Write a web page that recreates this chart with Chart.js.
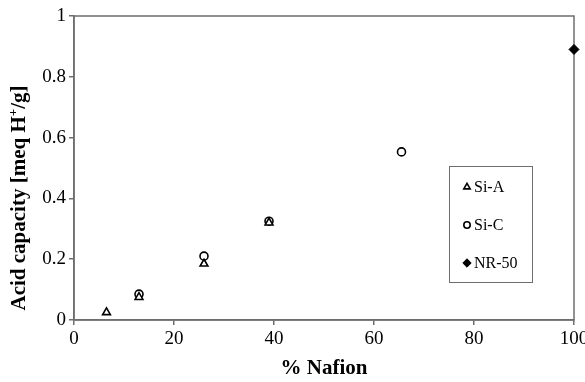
<!DOCTYPE html>
<html>
<head>
<meta charset="utf-8">
<script src="https://cdn.jsdelivr.net/npm/chart.js@4.4.0/dist/chart.umd.min.js"></script>
<style>
  html, body { margin: 0; padding: 0; background: #fff; }
  #wrap { width: 585px; height: 382px; }
</style>
</head>
<body>
<div id="wrap"><canvas id="chart" width="585" height="382"></canvas></div>
<script>
// datos
const siAX = [6.5, 13, 26, 39];
const siAY = [0.025, 0.075, 0.185, 0.32];
const siCX = [13, 26, 39, 65.5];
const siCY = [0.085, 0.21, 0.325, 0.553];
const nrX = [100];
const nrY = [0.89];
const seriesNames = ["Si-A", "Si-C", "NR-50"];

function pts(xs, ys) {
  return xs.map((x, i) => ({ x: x, y: ys[i] }));
}

const serif = "'Liberation Serif', 'Times New Roman', serif";

// caja alrededor del area de trazado (debajo de los puntos)
const frame = {
  id: "frame",
  beforeDatasetsDraw(chart) {
    const a = chart.chartArea, ctx = chart.ctx;
    ctx.save();
    ctx.strokeStyle = "#6e6e6e";
    ctx.lineWidth = 1.5;
    ctx.strokeRect(a.left, a.top, a.right - a.left, a.bottom - a.top);
    ctx.restore();
  }
};

// leyenda dentro del grafico
const boxLegend = {
  id: "boxLegend",
  afterDraw(chart) {
    const ctx = chart.ctx;
    ctx.save();
    ctx.strokeStyle = "#6e6e6e";
    ctx.lineWidth = 1;
    ctx.strokeRect(449.5, 166.5, 83, 116);
    ctx.textBaseline = "middle";
    const rows = [187, 225, 263];
    chart.data.datasets.forEach((ds, i) => {
      const y = rows[i];
      ctx.fillStyle = ds.backgroundColor;
      ctx.strokeStyle = ds.borderColor;
      ctx.lineWidth = ds.borderWidth;
      Chart.helpers.drawPoint(ctx, {
        pointStyle: ds.pointStyle,
        radius: ds.pointRadius - 0.8,
        borderWidth: ds.borderWidth,
        rotation: 0
      }, 467, y);
      ctx.font = "16px " + serif;
      ctx.fillStyle = "#000";
      ctx.fillText(ds.label, 474, y + 1);
    });
    ctx.restore();
  }
};

// titulo del eje y con superindice
const yTitle = {
  id: "yTitle",
  afterDraw(chart) {
    const ctx = chart.ctx;
    ctx.save();
    ctx.translate(20, 198);
    ctx.rotate(-Math.PI / 2);
    ctx.fillStyle = "#000";
    ctx.textBaseline = "middle";
    const big = "bold 21px " + serif, small = "bold 13px " + serif;
    const p1 = "Acid capacity [meq H", p2 = "+", p3 = "/g]";
    ctx.font = big; const w1 = ctx.measureText(p1).width, w3 = ctx.measureText(p3).width;
    ctx.font = small; const w2 = ctx.measureText(p2).width;
    let x = -(w1 + w2 + w3) / 2;
    ctx.font = big; ctx.fillText(p1, x, 0); x += w1;
    ctx.font = small; ctx.fillText(p2, x, -6); x += w2;
    ctx.font = big; ctx.fillText(p3, x, 0);
    ctx.restore();
  }
};

new Chart(document.getElementById("chart"), {
  type: "scatter",
  data: {
    datasets: [
      {
        label: seriesNames[0],
        data: pts(siAX, siAY),
        pointStyle: "triangle",
        pointRadius: 4.5,
        borderColor: "#000",
        backgroundColor: "#fff",
        borderWidth: 1.6
      },
      {
        label: seriesNames[1],
        data: pts(siCX, siCY),
        pointStyle: "circle",
        pointRadius: 4,
        borderColor: "#000",
        backgroundColor: "rgba(0,0,0,0)",
        borderWidth: 1.6
      },
      {
        label: seriesNames[2],
        data: pts(nrX, nrY),
        pointStyle: "rectRot",
        pointRadius: 5,
        borderColor: "#000",
        backgroundColor: "#000",
        borderWidth: 1,
        clip: false
      }
    ]
  },
  options: {
    responsive: false,
    animation: false,
    layout: { padding: { top: 16, right: 11, left: 0, bottom: 0 } },
    plugins: {
      legend: { display: false },
      tooltip: { enabled: false }
    },
    scales: {
      x: {
        type: "linear",
        min: 0,
        max: 100,
        ticks: { stepSize: 20, color: "#000", font: { family: serif, size: 19 }, padding: 3, maxRotation: 0 },
        grid: { drawOnChartArea: false, tickLength: 5, color: "#6e6e6e", lineWidth: 1.5 },
        border: { color: "#6e6e6e", width: 1.5 },
        title: { display: true, text: "% Nafion", color: "#000", font: { family: serif, size: 21, weight: "bold" }, padding: { top: 4, bottom: 1 } },
        afterFit(scale) {
          scale.height = 62;
          scale.paddingRight = 0;
          scale.paddingLeft = 0;
        }
      },
      y: {
        min: 0,
        max: 1,
        ticks: {
          stepSize: 0.2,
          color: "#000",
          font: { family: serif, size: 19 },
          padding: 3,
          callback: v => Math.round(v * 10) / 10
        },
        grid: { drawOnChartArea: false, tickLength: 5, color: "#6e6e6e", lineWidth: 1.5 },
        border: { color: "#6e6e6e", width: 1.5 },
        afterFit(scale) {
          scale.width = 74;
          scale.paddingTop = 0;
          scale.paddingBottom = 0;
        }
      }
    }
  },
  plugins: [frame, boxLegend, yTitle]
});
</script>
</body>
</html>
